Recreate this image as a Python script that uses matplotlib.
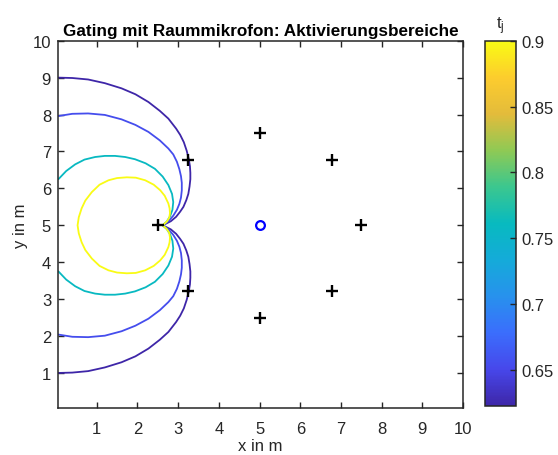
import matplotlib
matplotlib.use("Agg")
import matplotlib.pyplot as plt
import numpy as np
from matplotlib.colors import LinearSegmentedColormap, Normalize
from matplotlib.cm import ScalarMappable

plt.rcParams['font.family'] = ['Liberation Sans', 'DejaVu Sans']

# ---------------- data ----------------
title = "Gating mit Raummikrofon: Aktivierungsbereiche"
xlabel = "x in m"
ylabel = "y in m"
cbar_title = r"$\mathregular{t_j}$"

mic_x = [2.5, 3.23, 5.0, 6.77, 7.5, 6.77, 5.0, 3.23]
mic_y = [5.0, 6.77, 7.5, 6.77, 5.0, 3.23, 2.5, 3.23]
room_mic_x = [5.0]
room_mic_y = [5.0]

levels = [0.6227, 0.655, 0.76, 0.9]

c1_x = [0.06, 0.4, 0.79, 1.2, 1.61, 1.95, 2.27, 2.55, 2.76, 2.95, 3.05, 3.14, 3.21, 3.26, 3.29, 3.30, 3.30, 3.28,
        3.25, 3.20, 3.13, 3.05, 2.95, 2.82, 2.62,
        2.82, 2.95, 3.05, 3.13, 3.20, 3.25, 3.28, 3.30, 3.30, 3.29, 3.26, 3.21, 3.14, 3.05, 2.95, 2.76, 2.55, 2.27,
        1.95, 1.61, 1.2, 0.79, 0.4, 0.06]
c1_y = [9.0, 8.99, 8.95, 8.85, 8.71, 8.55, 8.34, 8.10, 7.89, 7.62, 7.45, 7.25, 7.02, 6.80, 6.60, 6.42, 6.25, 6.05,
        5.85, 5.68, 5.50, 5.37, 5.23, 5.11, 5.0,
        4.89, 4.77, 4.63, 4.50, 4.32, 4.15, 3.95, 3.75, 3.58, 3.40, 3.20, 2.98, 2.75, 2.55, 2.38, 2.11, 1.90, 1.66,
        1.45, 1.29, 1.15, 1.05, 1.01, 1.0]

c2_x = [0.06, 0.4, 0.79, 1.2, 1.61, 1.95, 2.27, 2.55, 2.76, 2.88, 2.97, 3.03, 3.07, 3.09, 3.09, 3.07, 3.03, 2.97,
        2.88, 2.77, 2.62,
        2.77, 2.88, 2.97, 3.03, 3.07, 3.09, 3.09, 3.07, 3.03, 2.97, 2.88, 2.76, 2.55, 2.27, 1.95, 1.61, 1.2, 0.79,
        0.4, 0.06]
c2_y = [7.96, 8.02, 8.03, 7.99, 7.87, 7.72, 7.53, 7.30, 7.08, 6.92, 6.72, 6.52, 6.33, 6.15, 5.95, 5.75, 5.58, 5.42,
        5.26, 5.12, 5.0,
        4.88, 4.74, 4.58, 4.42, 4.25, 4.05, 3.85, 3.67, 3.48, 3.28, 3.08, 2.92, 2.70, 2.47, 2.28, 2.13, 2.01, 1.97,
        1.98, 2.04]

c3_x = [0.06, 0.25, 0.47, 0.7, 0.96, 1.2, 1.45, 1.7, 1.94, 2.2, 2.43, 2.62, 2.76, 2.85, 2.88, 2.86, 2.80, 2.72, 2.62,
        2.72, 2.80, 2.86, 2.88, 2.85, 2.76, 2.62, 2.43, 2.2, 1.94, 1.7, 1.45, 1.2, 0.96, 0.7, 0.47, 0.25, 0.06]
c3_y = [6.25, 6.47, 6.65, 6.78, 6.85, 6.88, 6.88, 6.85, 6.79, 6.68, 6.53, 6.32, 6.09, 5.85, 5.63, 5.42, 5.24, 5.10, 5.0,
        4.90, 4.76, 4.58, 4.37, 4.15, 3.91, 3.68, 3.47, 3.32, 3.21, 3.15, 3.12, 3.12, 3.15, 3.22, 3.35, 3.53, 3.75]

c4_x = [2.62, 2.72, 2.78, 2.80, 2.79, 2.76, 2.67, 2.56, 2.40, 2.19, 1.96, 1.74, 1.50, 1.29, 1.07, 0.88, 0.72, 0.63,
        0.56, 0.53,
        0.56, 0.63, 0.72, 0.88, 1.07, 1.29, 1.50, 1.74, 1.96, 2.19, 2.40, 2.56, 2.67, 2.76, 2.79, 2.80, 2.78, 2.72, 2.62]
c4_y = [5.0, 5.10, 5.20, 5.33, 5.46, 5.59, 5.80, 5.95, 6.10, 6.22, 6.29, 6.30, 6.28, 6.22, 6.10, 5.90, 5.67, 5.46,
        5.22, 5.0,
        4.78, 4.54, 4.33, 4.10, 3.90, 3.78, 3.72, 3.70, 3.71, 3.78, 3.90, 4.05, 4.20, 4.41, 4.54, 4.67, 4.80, 4.90, 5.0]

contours_x = [c1_x, c2_x, c3_x, c4_x]
contours_y = [c1_y, c2_y, c3_y, c4_y]

xticks = [1, 2, 3, 4, 5, 6, 7, 8, 9, 10]
yticks = [1, 2, 3, 4, 5, 6, 7, 8, 9, 10]
cticks = [0.65, 0.7, 0.75, 0.8, 0.85, 0.9]
cticklabels = ["0.65", "0.7", "0.75", "0.8", "0.85", "0.9"]
clim = (0.6227, 0.9)

# ---------------- style ----------------
parula_anchors = [
    (0.00, (0.2422, 0.1504, 0.6603)),
    (0.10, (0.2780, 0.2800, 0.9220)),
    (0.20, (0.2300, 0.4300, 0.9900)),
    (0.30, (0.1540, 0.5700, 0.9300)),
    (0.40, (0.0800, 0.6700, 0.8500)),
    (0.50, (0.0300, 0.7300, 0.7500)),
    (0.60, (0.2300, 0.7800, 0.5600)),
    (0.70, (0.5600, 0.7900, 0.3300)),
    (0.80, (0.8900, 0.7350, 0.2300)),
    (0.90, (0.9900, 0.8000, 0.1800)),
    (1.00, (0.9769, 0.9839, 0.0805)),
]
parula = LinearSegmentedColormap.from_list("parula", parula_anchors, N=256)
norm = Normalize(vmin=clim[0], vmax=clim[1])

axcol = (0.15, 0.15, 0.15)
fs = 12

fig = plt.figure(figsize=(5.58, 4.56), dpi=100)
ax = fig.add_axes([0.104, 0.103, 0.726, 0.8055])

for lev, cx, cy in zip(levels, contours_x, contours_y):
    ax.plot(cx, cy, color=parula(norm(lev)), lw=1.3, solid_joinstyle='round',
            solid_capstyle='round', zorder=2)

ax.plot(mic_x, mic_y, linestyle='none', marker='+', color='black', markersize=8.5, mew=1.7, zorder=3)
ax.plot(room_mic_x, room_mic_y, linestyle='none', marker='o', markerfacecolor='none',
        markeredgecolor=(0, 0, 1), markersize=6.3, mew=1.6, zorder=3)

ax.set_xlim(0.05, 10)
ax.set_ylim(0.05, 10)
ax.set_xticks(xticks)
ax.set_yticks(yticks)
ax.set_xticklabels([str(t) for t in xticks])
ax.set_yticklabels([str(t) for t in yticks])
ax.tick_params(direction='in', length=4.5, width=1.0, color=axcol, labelcolor=axcol,
               labelsize=fs, top=True, right=True, pad=5)
ax.tick_params(axis='x', pad=9)
for s in ax.spines.values():
    s.set_color(axcol)
    s.set_linewidth(1.1)

ax.set_title(title, fontsize=12.3, fontweight='bold', color='black', pad=4)
ax.set_xlabel(xlabel, fontsize=fs, color=axcol, labelpad=2)
ax.set_ylabel(ylabel, fontsize=fs, color=axcol, labelpad=3)

cax = fig.add_axes([0.869, 0.1075, 0.055, 0.801])
sm = ScalarMappable(norm=norm, cmap=parula)
cb = fig.colorbar(sm, cax=cax)
cb.set_ticks(cticks)
cb.set_ticklabels(cticklabels)
cax.tick_params(direction='in', length=4.5, width=1.0, color=axcol, labelcolor=axcol,
                labelsize=fs, pad=4)
cb.outline.set_edgecolor(axcol)
cb.outline.set_linewidth(1.1)
cax.set_title(cbar_title, fontsize=fs, color=axcol, pad=9)

fig.savefig("out.png", dpi=100)
